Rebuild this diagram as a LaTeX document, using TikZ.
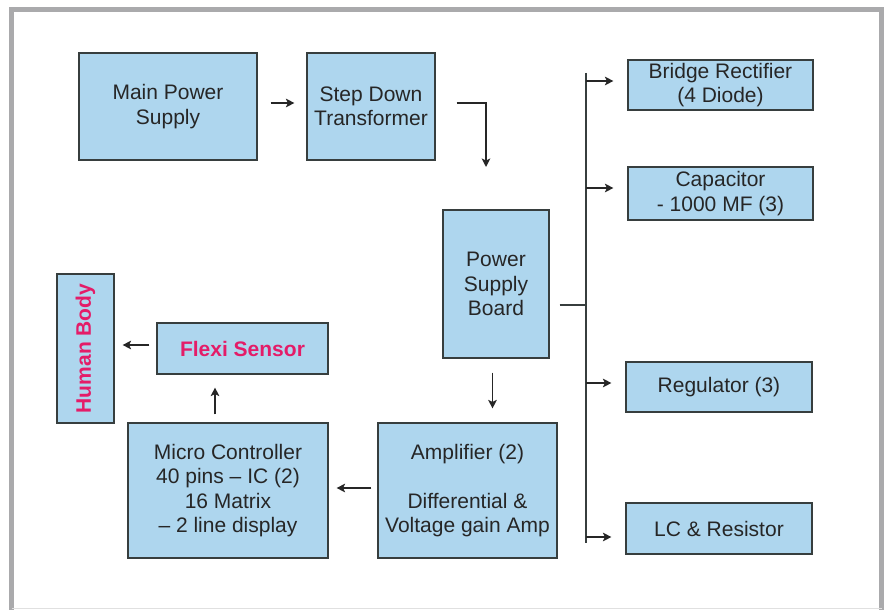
\documentclass[tikz,border=0pt]{standalone}
\usepackage{fontspec}
\setmainfont{Liberation Sans}
\usepackage{graphicx}
\usepackage{tikz}
\usetikzlibrary{arrows.meta, positioning, calc}
\definecolor{boxblue}{RGB}{174,214,238}
\definecolor{boxline}{RGB}{55,62,62}
\definecolor{framegray}{RGB}{170,170,172}
\definecolor{sensorred}{RGB}{228,28,104}
\tikzset{
  %% Block of the diagram
  blk/.style={
    rectangle, draw=boxline, fill=boxblue,
    align=center, inner sep=0pt, line width=1.1pt,
    font=\fontsize{21}{24.5}\selectfont, text=black!85
  },
  %% Red bold label
  redlbl/.style={font=\fontsize{21}{24.5}\selectfont\bfseries, text=sensorred},
  %% Arrow
  arr/.style={-{Stealth[length=8.5pt,width=8.5pt,inset=2pt]},
              draw=black!85, line width=1.7pt},
  gap/.style 2 args={shorten <=#1, shorten >=#2},
  %% Supply bus
  bus/.style={draw=boxline, line width=1.6pt},
}

\begin{document}
\begin{tikzpicture}[x=1pt, y=-1pt]

  \useasboundingbox (0,0) rectangle (884,610);
  \fill[white] (0,0) rectangle (884,610);
  %% Frame
  \draw[framegray, line width=5pt] (11.5,610) -- (11.5,9.5) -- (881.5,9.5) -- (881.5,610);
  \draw[black!12, line width=1.5pt] (11.5,608.5) -- (881.5,608.5);

  \node[blk, minimum width=178pt, minimum height=107pt] (mps) at (168,106.5)
       {Main Power\\Supply};
  \node[blk, minimum width=128pt, minimum height=107pt] (sdt) at (371,106.5)
       {Step Down\\Transformer};
  \node[blk, minimum width=106pt, minimum height=148pt] (psb) at (496,284)
       {Power\\Supply\\Board};

  \node[blk, minimum width=185pt, minimum height=50pt] (bridge) at (720.5,85)
       {Bridge Rectifier\\(4 Diode)};
  \node[blk, minimum width=185pt, minimum height=53pt] (cap) at (720.5,193.5)
       {Capacitor\\- 1000 MF (3)};
  \node[blk, minimum width=186pt, minimum height=50pt] (reg) at (719,387)
       {Regulator (3)};
  \node[blk, minimum width=186pt, minimum height=51pt] (lcr) at (719,528.5)
       {LC \& Resistor};

  \node[blk, minimum width=179pt, minimum height=135pt] (amp) at (467.5,490.5)
       {Amplifier (2)\\[24.5pt]Differential \&\\Voltage gain Amp};
  \node[blk, minimum width=200pt, minimum height=135pt] (mcu) at (228,490.5)
       {Micro Controller\\40 pins – IC (2)\\16 Matrix\\– 2 line display};
  \node[blk, redlbl, minimum width=171pt, minimum height=51pt] (flexi) at (242.5,348.5)
       {Flexi Sensor};
  \node[blk, redlbl, minimum width=57pt, minimum height=149pt] (body) at (85.5,348.5)
       {\rotatebox{90}{Human Body}};

  %% Arrows
  \draw[arr, gap={13pt}{12pt}] ([yshift=3.5pt]mps.east) -- ([yshift=3.5pt]sdt.west);
  \coordinate (drop) at (486,167);
  \draw[arr] ([xshift=21pt, yshift=3.5pt]sdt.east) -| (drop);
  \draw[arr, gap={14pt}{14pt}] ([xshift=-3.5pt]psb.south)
       -- ([xshift=-3.5pt]psb.south |- amp.north);
  \draw[arr, gap={6pt}{8pt}] ([yshift=2.5pt]amp.west) -- ([yshift=2.5pt]amp.west -| mcu.east);
  \draw[arr, gap={8pt}{13pt}] ([xshift=-13pt]mcu.north) -- ([xshift=-13pt]mcu.north |- flexi.south);
  \draw[arr, gap={7pt}{8pt}] ([yshift=3.5pt]flexi.west) -- ([yshift=3.5pt]flexi.west -| body.east);

  %% Supply bus
  \coordinate (bustop) at (586,73);
  \coordinate (busbot) at (586,543);
  \coordinate (tap) at (586,305);
  \draw[bus] (bustop) -- (busbot);
  \draw[bus] ([xshift=10pt]psb.east |- tap) -- (tap);
  \foreach \n/\dy in {bridge/4, cap/5.5, reg/4, lcr/-8.5}
    \draw[arr, shorten >=14pt] ([yshift=\dy pt]bustop |- \n.west) -- ([yshift=\dy pt]\n.west);

\end{tikzpicture}
\end{document}
